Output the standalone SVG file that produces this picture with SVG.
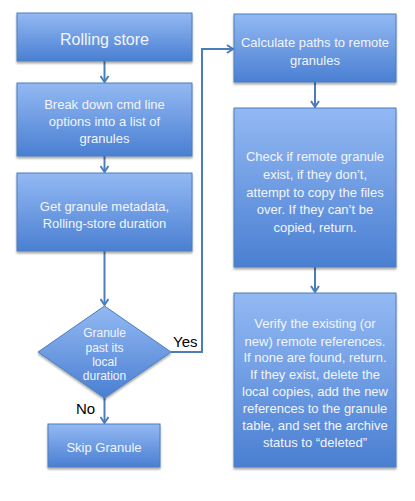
<svg xmlns="http://www.w3.org/2000/svg" width="415" height="501" viewBox="0 0 415 501">
<defs>
<linearGradient id="g" x1="0" y1="0" x2="0" y2="1">
<stop offset="0" stop-color="#93b9f3"/>
<stop offset="1" stop-color="#4a7fd2"/>
</linearGradient>
<filter id="sh" x="-10%" y="-10%" width="130%" height="130%">
<feGaussianBlur in="SourceAlpha" stdDeviation="1.2"/>
<feOffset dx="0" dy="1.5"/>
<feComponentTransfer><feFuncA type="linear" slope="0.35"/></feComponentTransfer>
<feMerge><feMergeNode/><feMergeNode in="SourceGraphic"/></feMerge>
</filter>
<marker id="ah" markerWidth="10" markerHeight="10" refX="7" refY="5" orient="auto" markerUnits="userSpaceOnUse">
<path d="M1,1 L7,5 L1,9" fill="none" stroke="#4a7ebb" stroke-width="2"/>
</marker>
</defs>
<style>
.n{fill:url(#g);stroke:#4a7ebb;stroke-width:1;filter:url(#sh)}
.t{font-family:"Liberation Sans",Arial,sans-serif;font-size:13px;fill:#f2f5fb;text-anchor:middle}
.c{fill:none;stroke:#4a7ebb;stroke-width:2;marker-end:url(#ah)}
.l{font-family:"Liberation Sans",Arial,sans-serif;font-size:15px;fill:#000}
</style>
<rect width="415" height="501" fill="#ffffff"/>
<g id="connectors">
<path class="c" d="M104.5,61 V82"/>
<path class="c" d="M104.5,156 V172"/>
<path class="c" d="M104.5,251 V305"/>
<path class="c" d="M104.5,398 V423"/>
<path class="c" d="M171,352 H202 V49 H233"/>
<path class="c" d="M315,82 V107"/>
<path class="c" d="M315,267 V292"/>
<text class="l" x="173" y="347">Yes</text>
<text class="l" x="76" y="414">No</text>
</g>
<g id="rolling">
<rect class="n" x="17" y="13" width="175" height="48"/>
<text class="t" x="104.5" y="45" style="font-size:16px">Rolling store</text>
</g>
<g id="breakdown">
<rect class="n" x="17" y="83" width="175" height="73"/>
<text class="t" x="104.5" y="109">Break down cmd line</text>
<text class="t" x="104.5" y="126">options into a list of</text>
<text class="t" x="104.5" y="143">granules</text>
</g>
<g id="metadata">
<rect class="n" x="17" y="173" width="175" height="78"/>
<text class="t" x="104.5" y="211">Get granule metadata,</text>
<text class="t" x="104.5" y="228">Rolling-store duration</text>
</g>
<g id="decision">
<polygon class="n" points="104.5,306 171,352 104.5,398 38,352"/>
<text class="t" x="104.5" y="337" style="font-size:12px">Granule</text>
<text class="t" x="104.5" y="352" style="font-size:12px">past its</text>
<text class="t" x="104.5" y="366" style="font-size:12px">local</text>
<text class="t" x="104.5" y="380" style="font-size:12px">duration</text>
</g>
<g id="skip">
<rect class="n" x="48" y="424" width="112" height="43"/>
<text class="t" x="104" y="452">Skip Granule</text>
</g>
<g id="calculate">
<rect class="n" x="234" y="14" width="162" height="68"/>
<text class="t" x="315" y="47">Calculate paths to remote</text>
<text class="t" x="315" y="65">granules</text>
</g>
<g id="check">
<rect class="n" x="234" y="108" width="162" height="159"/>
<text class="t" x="315" y="161">Check if remote granule</text>
<text class="t" x="315" y="179">exist, if they don’t,</text>
<text class="t" x="315" y="197">attempt to copy the files</text>
<text class="t" x="315" y="214">over. If they can’t be</text>
<text class="t" x="315" y="232">copied, return.</text>
</g>
<g id="verify">
<rect class="n" x="234" y="293" width="162" height="174"/>
<text class="t" x="315" y="328">Verify the existing (or</text>
<text class="t" x="315" y="346">new) remote references.</text>
<text class="t" x="315" y="362">If none are found, return.</text>
<text class="t" x="315" y="379">If they exist, delete the</text>
<text class="t" x="315" y="396">local copies, add the new</text>
<text class="t" x="315" y="413">references to the granule</text>
<text class="t" x="315" y="430">table, and set the archive</text>
<text class="t" x="315" y="447">status to “deleted”</text>
</g>
</svg>
